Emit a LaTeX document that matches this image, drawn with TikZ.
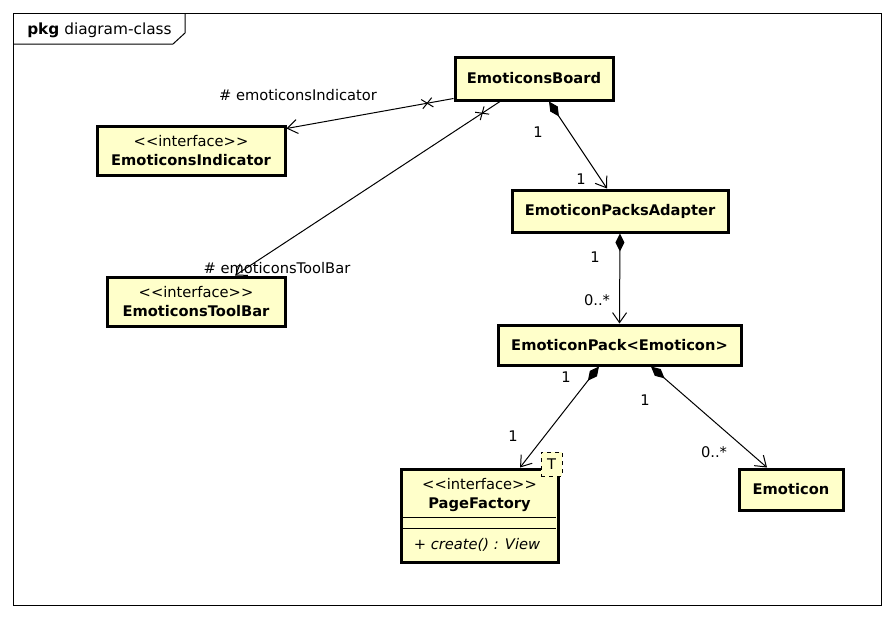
\documentclass[tikz,border=0pt]{standalone}
\usepackage{fontspec}
\setmainfont{DejaVu Sans}
\usetikzlibrary{arrows.meta,decorations.markings}
\definecolor{clsfill}{HTML}{FFFFCA}
\newcommand{\stereo}{<{}<interface>{}>}
\begin{document}
\begin{tikzpicture}[x=0.75pt,y=-0.75pt,
  font=\fontsize{11}{14}\selectfont,
  cls/.style={draw, fill=clsfill, line width=2.25pt, inner sep=0pt, align=center, font=\fontsize{11}{14}\selectfont\bfseries},
  conn/.style={line width=0.75pt},
  opentip/.style={-{Straight Barb[length=7.5pt,width=10.5pt]}},
  comp/.style={conn, {Diamond[length=13.5pt,width=6.75pt]}-{Straight Barb[length=7.5pt,width=10.5pt]}},
  xmark/.style={postaction={decorate, decoration={markings, mark=at position #1 with {\draw[-, line width=0.75pt] (-4pt,-3.5pt)--(4pt,3.5pt) (-4pt,3.5pt)--(4pt,-3.5pt);}}}},
  lbl/.style={inner sep=0pt, font=\fontsize{11}{13}\selectfont}
]
\useasboundingbox (0,0) rectangle (894,618);
\fill[white] (0,0) rectangle (894,618);
% frame
\draw[line width=0.75pt] (13,13) rectangle (881,605);
\draw[line width=0.75pt] (13,44) -- (173,44) -- (185,33) -- (185,13);
\node[anchor=west, inner sep=0pt, font=\fontsize{11.5}{13}\selectfont] (title) at (27,30) {\textbf{pkg} diagram-class};

% classes
\node[cls, minimum width=118.5pt, minimum height=32.25pt] (eb) at (534,78.5) {EmoticonsBoard};
\node[cls, minimum width=141pt, minimum height=36.75pt] (ind) at (191,150.5) {{\mdseries \stereo}\\EmoticonsIndicator};
\node[cls, minimum width=133.5pt, minimum height=36.75pt] (tb) at (196,301.5) {{\mdseries \stereo}\\EmoticonsToolBar};
\node[cls, minimum width=162pt, minimum height=31.5pt] (pa) at (620,211) {EmoticonPacksAdapter};
\node[cls, minimum width=182.25pt, minimum height=30pt] (ep) at (619.5,345) {EmoticonPack<Emoticon>};
\node[cls, minimum width=78pt, minimum height=30.75pt] (em) at (791,489.5) {Emoticon};
\node[cls, minimum width=117.75pt, minimum height=69.75pt] (pf) at (479.5,515.5) {};
\draw[line width=0.75pt] (403,517) -- (556,517);
\draw[line width=0.75pt] (403,528) -- (556,528);
\node[inner sep=0pt, align=center] (pft) at (479.5,495) {\stereo\\\textbf{PageFactory}};
\node[inner sep=0pt] (pfm) at (477,545) {\itshape + create() : View};
\node[draw, dashed, fill=clsfill, line width=0.6pt, minimum width=15.75pt, minimum height=18pt, inner sep=0pt] (tp) at (551.5,464) {T};

% connectors
\draw[conn, opentip, xmark=20pt] ([yshift=2.25pt]eb.south west) -- ([yshift=-3pt]ind.north east);
\draw[conn, opentip, xmark=16pt] ([xshift=-25.5pt]eb.south) -- ([xshift=29.25pt]tb.north);
\draw[comp] ([xshift=11.25pt]eb.south) -- ([xshift=-9.75pt]pa.north);
\draw[comp] (pa.south) -- (ep.north);
\draw[comp] ([xshift=-15.4pt]ep.south) -- ([xshift=30.4pt]pf.north);
\draw[comp] ([xshift=23.6pt]ep.south) -- ([xshift=-18pt]em.north);

% labels
\node[lbl] (l1) at (298,95) {\# emoticonsIndicator};
\node[lbl] (l2) at (277,268) {\# emoticonsToolBar};
\node[lbl] (m1) at (538,132) {1};
\node[lbl] (m2) at (581,179) {1};
\node[lbl] (m3) at (595,257) {1};
\node[lbl] (m4) at (597,300) {0..*};
\node[lbl] (m5) at (566,377) {1};
\node[lbl] (m6) at (513,436) {1};
\node[lbl] (m7) at (645,400) {1};
\node[lbl] (m8) at (714,452) {0..*};
\end{tikzpicture}
\end{document}
